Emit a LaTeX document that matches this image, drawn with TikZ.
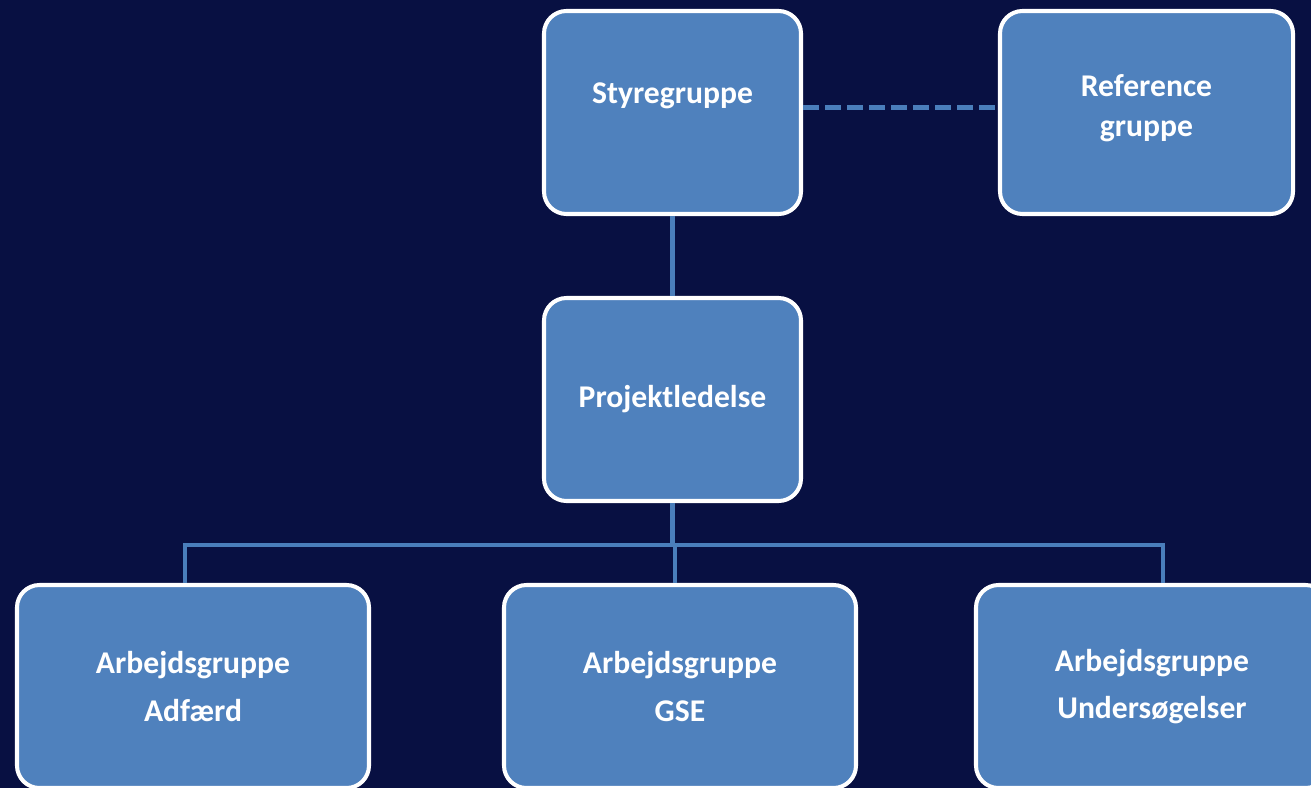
\documentclass[tikz,border=0pt]{standalone}
\usepackage{fontspec}
\setmainfont{Carlito}
\usetikzlibrary{positioning}
\definecolor{navy}{RGB}{8,16,66}
\definecolor{boxblue}{RGB}{79,129,189}
\definecolor{linkblue}{RGB}{74,126,187}
\tikzset{
  group/.style={draw=white,line width=2.3pt,fill=boxblue,rounded corners=0.45cm,
    text=white,font=\fontsize{18}{23}\selectfont\bfseries,align=center,
    minimum width=5.14cm,minimum height=4.06cm},
  wide/.style={group,minimum width=7.04cm},
  link/.style={draw=linkblue,line width=2.3pt},
}
\begin{document}
\begin{tikzpicture}[node distance=5.74cm,on grid]
		\useasboundingbox[fill=navy] (0,0) rectangle (26.22,-15.76);
		\node[group,text depth=0.79cm](sg) at (13.45,-2.25) {Styregruppe};
		\node[group,minimum width=5.86cm,text depth=0.29cm](ref)[right=9.48cm of sg] {Reference\\gruppe};
		\node[group](pl)[below=of sg] {Projektledelse};
		\node[wide](gse)[below=of pl,xshift=0.15cm] {Arbejdsgruppe\\[4pt]GSE};
		\node[wide](ad)[left=9.74cm of gse] {Arbejdsgruppe\\[4pt]Adfærd};
		\node[wide](us)[right=9.44cm of gse] {Arbejdsgruppe\\[4pt]Undersøgelser};
		\coordinate[below=0.84cm of pl.south](bus);
		% forbindelser
		\path[link]
		(sg.south) -- (pl.north)
		(pl.south) -- (bus)
		([xshift=-0.16cm]ad.north) -- ([xshift=-0.16cm]ad.north |- bus)
		  -- ([xshift=0.22cm]us.north |- bus) -- ([xshift=0.22cm]us.north)
		([xshift=-0.1cm]gse.north) -- ([xshift=-0.1cm]gse.north |- bus);
		\draw[link,dash pattern=on 0.32cm off 0.12cm] ([yshift=0.1cm]sg.east) -- ([yshift=0.1cm]ref.west);
\end{tikzpicture}
\end{document}
